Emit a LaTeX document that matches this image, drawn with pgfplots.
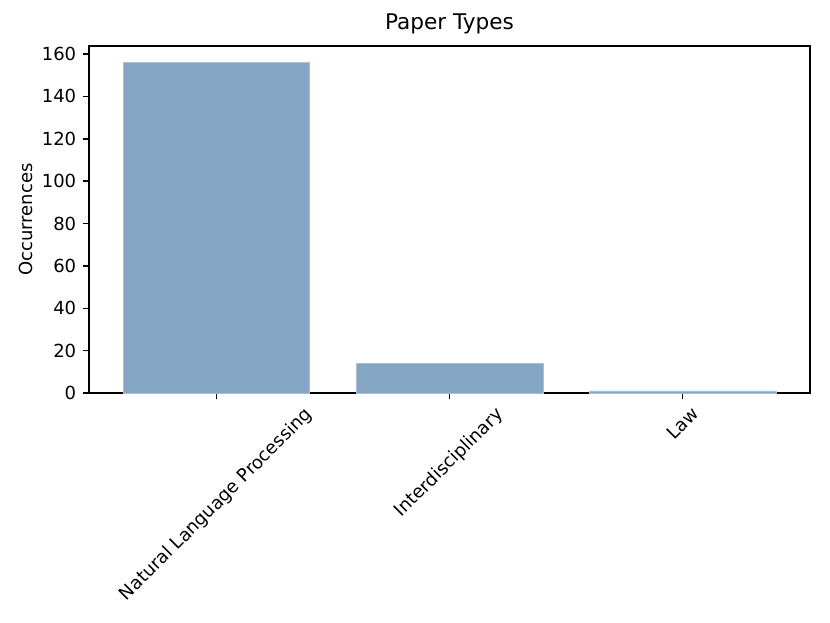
\documentclass[border=0pt]{standalone}
\usepackage{fontspec}
\setmainfont{DejaVu Sans}
\usepackage{graphicx}
\usepackage{pgfplots}
\pgfplotsset{compat=1.18}
\definecolor{barc}{HTML}{84A5C4}
\begin{document}
\fontsize{18bp}{21bp}\selectfont
\begin{tikzpicture}
\path[use as bounding box] (-89bp,-230bp) rectangle (741bp,393bp);
\begin{axis}[
  at={(0,0)}, anchor=south west,
  scale only axis, width=721bp, height=347bp,
  xmin=-0.546, xmax=2.546,
  ymin=0, ymax=163.8,
  ytick={0,20,...,160},
  xtick={0,1,2},
  xticklabels={\rotatebox{45}{Natural Language Processing},\rotatebox{45}{Interdisciplinary},\rotatebox{45}{Law}},
  xticklabel style={anchor=north, inner sep=0pt, yshift=-6.3bp},
  yticklabel style={anchor=east, inner sep=0pt, xshift=-6.3bp},
  tick align=outside,
  major tick length=6.3bp,
  tick style={black, line width=1.44bp},
  axis line style={black, line width=1.44bp},
  xtick pos=bottom, ytick pos=left,
  /pgf/number format/assume math mode=true,
  ticklabel style={font=\fontsize{18bp}{21bp}\selectfont},
  title={Paper Types},
  title style={at={(axis description cs:0.5,1)}, anchor=base, inner sep=0pt, yshift=10.8bp, font=\fontsize{21.6bp}{25bp}\selectfont},
  ylabel={Occurrences},
  every axis y label/.style={at={(axis description cs:0,0.5)}, xshift=-56bp, rotate=90, anchor=base, inner sep=0pt, font=\fontsize{18bp}{21bp}\selectfont},
  ybar, bar width=0.8, bar shift=0pt,
  clip=false,
]
\addplot[fill=barc, draw=barc!70!white, line width=0.5bp] coordinates {(0,156) (1,14) (2,1)};
\end{axis}
\end{tikzpicture}
\end{document}
